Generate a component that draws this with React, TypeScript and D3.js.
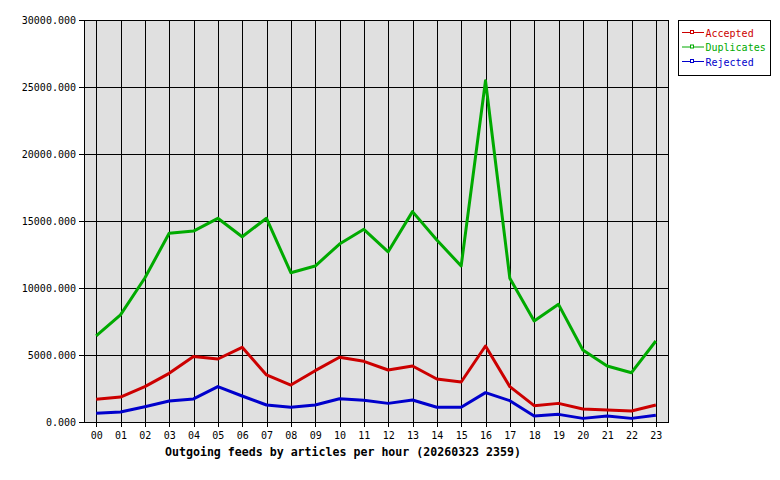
import React from "react";
import * as d3 from "d3";

const hours = ["00","01","02","03","04","05","06","07","08","09","10","11","12","13","14","15","16","17","18","19","20","21","22","23"];
const accepted = [1690,1865,2640,3630,4880,4700,5570,3510,2760,3830,4830,4530,3880,4180,3210,2985,5670,2640,1220,1390,970,895,820,1270];
const duplicates = [6420,7990,10750,14080,14250,15200,13830,15200,11140,11640,13280,14380,12700,15700,13580,11640,25470,10720,7540,8780,5370,4180,3680,6045];
const rejected = [650,750,1140,1570,1720,2640,1940,1270,1100,1270,1740,1620,1390,1640,1100,1100,2190,1590,450,570,270,450,270,500];
const yTicks = [0,5000,10000,15000,20000,25000,30000];
const seriesNames = ["Accepted","Duplicates","Rejected"];
const seriesColors = ["#cc0000","#00aa00","#0000cc"];
const title = "Outgoing feeds by articles per hour (20260323 2359)";

export default function App() {
  const W = 780, H = 480;
  const left = 84, right = 668, top = 20, bottom = 422;
  const x = d3.scaleBand<string>().domain(hours).range([left, right]);
  const cx = (h: string) => (x(h) as number) + x.bandwidth() / 2;
  const y = d3.scaleLinear().domain([0, 30000]).range([bottom, top]);
  const line = d3.line<number>().x((_, i) => cx(hours[i])).y(v => y(v));
  const all = [accepted, duplicates, rejected];
  const mono = "'DejaVu Sans Mono', monospace";
  return (
    <svg width={W} height={H} style={{ position: "absolute", left: 0, top: 0, background: "#fff" }}>
      <rect x={0} y={0} width={W} height={H} fill="#fff" />
      <rect x={left} y={top} width={right - left} height={bottom - top} fill="#e0e0e0" />
      {hours.map(h => (
        <line key={"v" + h} x1={cx(h) + 0.5} x2={cx(h) + 0.5} y1={top} y2={bottom + 5} stroke="#000" strokeWidth={1} shapeRendering="crispEdges" />
      ))}
      {yTicks.map(t => (
        <line key={"h" + t} x1={left - 5} x2={right} y1={Math.round(y(t)) + 0.5} y2={Math.round(y(t)) + 0.5} stroke="#000" strokeWidth={1} shapeRendering="crispEdges" />
      ))}
      <rect x={left + 0.5} y={top + 0.5} width={right - left} height={bottom - top} fill="none" stroke="#000" strokeWidth={1} shapeRendering="crispEdges" />
      {yTicks.map(t => (
        <text key={"yl" + t} x={left - 8} y={y(t) + 4} textAnchor="end" fontFamily={mono} fontSize={10} fill="#000">{t.toFixed(3)}</text>
      ))}
      {hours.map(h => (
        <text key={"xl" + h} x={cx(h) + 0.5} y={bottom + 17} textAnchor="middle" fontFamily={mono} fontSize={10} fill="#000">{h}</text>
      ))}
      {all.map((s, i) => (
        <path key={"s" + i} d={line(s) || ""} fill="none" stroke={seriesColors[i]} strokeWidth={3} strokeLinejoin="round" />
      ))}
      <text x={343} y={456} textAnchor="middle" fontFamily={mono} fontSize={11.6} fontWeight="bold" fill="#000">{title}</text>
      <rect x={678.5} y={20.5} width={92} height={55} fill="#fff" stroke="#000" strokeWidth={1} shapeRendering="crispEdges" />
      {seriesNames.map((n, i) => {
        const ly = 32.5 + i * 14.5;
        return (
          <g key={"lg" + n}>
            <line x1={682} x2={704} y1={ly} y2={ly} stroke={seriesColors[i]} strokeWidth={1} />
            <rect x={690.5} y={ly - 2} width={3} height={3} fill="#fff" stroke={seriesColors[i]} strokeWidth={1} />
            <text x={705.5} y={ly + 4} fontFamily={mono} fontSize={10} fill={seriesColors[i]}>{n}</text>
          </g>
        );
      })}
    </svg>
  );
}
